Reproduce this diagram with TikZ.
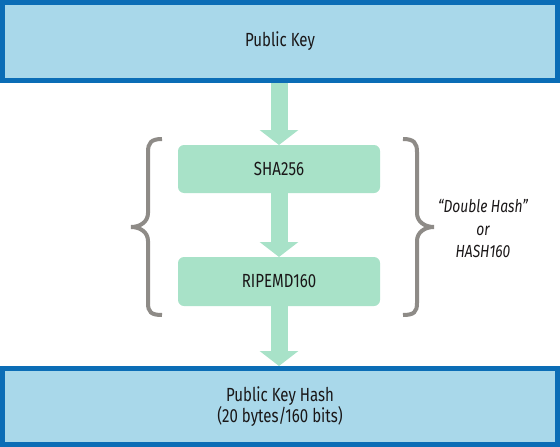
\documentclass[tikz,border=0pt]{standalone}
\usepackage{fontspec}
\setmainfont{Fira Sans}[FakeStretch=0.79]
\usetikzlibrary{arrows.meta}
\definecolor{boxblue}{HTML}{A9D8EA}
\definecolor{borderblue}{HTML}{0B6DB6}
\definecolor{mint}{HTML}{A8E2C8}
\definecolor{bracegray}{HTML}{8E8B87}
\definecolor{ink}{HTML}{1A1718}
\tikzset{
  bigbox/.style={draw=borderblue, fill=boxblue, line width=5pt, rectangle,
    minimum width=555pt, inner sep=0pt, text=ink, font=\fontsize{19}{19.5}\selectfont, align=center},
  hashbox/.style={fill=mint, rounded corners=6pt, minimum width=202pt, inner sep=0pt,
    outer sep=0pt, text=ink, font=\fontsize{19}{19.5}\selectfont},
  fatarrow/.style={draw=mint, line width=17pt,
    -{Triangle[width=38pt,length=15pt]}},
  bracestyle/.style={draw=bracegray, line width=4pt},
  note/.style={text=ink, font=\fontsize{17.5}{22.5}\selectfont\itshape, align=center}
}
\begin{document}
\begin{tikzpicture}[x=1pt,y=-1pt]
\useasboundingbox (0,0) rectangle (560,447);
\node[bigbox, minimum height=78pt] (pk) at (280,41.5) {Public Key};
\node[hashbox, minimum height=48pt] (sha) at (279,169) {SHA256};
\node[hashbox, minimum height=49pt] (ripe) at (279,281.5) {RIPEMD160};
\node[bigbox, minimum height=76pt] (pkh) at (280,406.5) {Public Key Hash\\(20 bytes/160 bits)};
\node[note] (lbl) at (483,229) {\char"201C Double Hash\char"201D\\or\\HASH160};
\draw[fatarrow] (pk.south -| sha.north) -- (sha.north);
\draw[fatarrow] (sha.south) -- (ripe.north);
\draw[fatarrow] (ripe.south) -- (pkh.north -| ripe.south);
% braces
\draw[bracestyle] (162,139) .. controls (151,139) and (148,143) .. (148,152) -- (148,213)
  .. controls (148,222) and (140,227) .. (131,227)
  .. controls (140,227) and (148,232) .. (148,241) -- (148,303)
  .. controls (148,312) and (151,315) .. (162,315);
\draw[bracestyle] (403,139) .. controls (414,139) and (417,143) .. (417,152) -- (417,213)
  .. controls (417,222) and (425,227) .. (434,227)
  .. controls (425,227) and (417,232) .. (417,241) -- (417,303)
  .. controls (417,312) and (414,315) .. (403,315);
\end{tikzpicture}
\end{document}
